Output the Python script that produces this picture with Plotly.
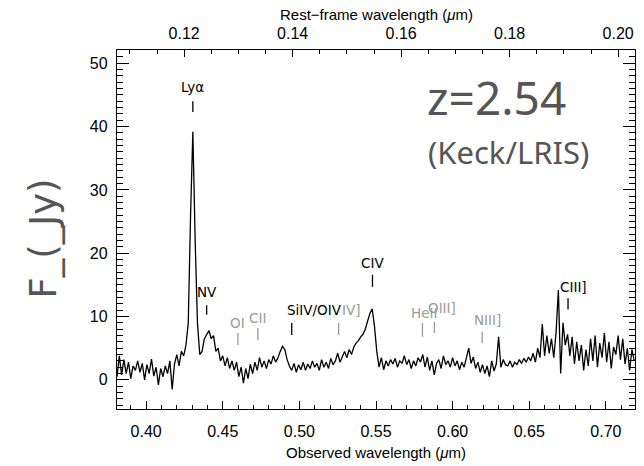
import plotly.graph_objects as go

# ---------------- data ----------------
z_redshift = 2.54
lam_start = 0.381          # observed wavelength of first pixel (micron)
lam_step = 0.0015          # pixel step (micron)
flux = [
    0.5, 3.8, 0.8, 3.2, 1.0, 2.8, 0.2, 2.2, 1.5, 3.0,
    1.2, 2.6, 0.0, 2.4, 1.0, 3.3, 0.6, 2.0, -0.8, 1.8,
    0.5, 2.2, 1.0, 3.0, -1.5, 2.5, 4.0, 2.2, 4.5, 3.8,
    5.5, 9.0, 26.0, 39.2, 22.0, 9.0, 4.0, 4.5, 6.5, 7.2,
    7.8, 6.5, 7.0, 4.5, 5.0, 3.0, 3.8, 2.2, 3.5, 1.8,
    3.0, 1.5, 2.8, 0.5, 2.0, -0.5, 1.8, 0.2, 2.5, 1.0,
    2.8, 1.5, 3.5, 2.0, 3.0, 1.8, 3.2, 2.5, 3.8, 2.8,
    3.5, 4.5, 5.3, 4.8, 3.2, 2.2, 1.5, 2.6, 1.2, 2.4,
    1.6, 2.8, 1.5, 2.5, 1.8, 3.0, 2.0, 2.6, 1.5, 3.2,
    2.0, 2.8, 1.8, 3.4, 2.4, 3.0, 4.2, 2.8, 3.6, 4.5,
    3.5, 4.8, 4.0, 5.2, 5.8, 6.2, 6.8, 7.2, 8.0, 9.5,
    10.5, 11.2, 8.5, 4.5, 2.0, 3.5, 1.6, 3.0, 2.2, 3.2,
    2.5, 3.4, 2.0, 3.0, 2.6, 3.8, 2.4, 3.2, 1.8, 3.0,
    2.2, 3.5, 2.8, 4.0, 2.0, 3.6, 1.5, 3.0, 0.8, 2.6,
    3.2, 1.8, 3.8, 2.4, 3.0, 2.0, 3.5, 2.2, 3.0, 1.6,
    2.8, 2.0, 3.4, 5.0, 2.6, 3.6, 1.8, 2.8, 1.2, 2.4,
    1.0, 2.2, 0.5, 3.0, 1.4, 2.5, 6.8, 2.0, 3.2, 2.4,
    2.2, 3.0, 2.0, 2.8, 2.4, 3.2, 2.6, 3.4, 2.8, 3.6,
    3.0, 4.2, 2.8, 5.0, 3.5, 8.8, 3.8, 7.0, 4.2, 6.5,
    3.5, 7.5, 14.2, 1.0, 9.0, 5.5, 7.2, 3.8, 6.8, 2.5,
    6.0, 3.0, 5.5, 1.5, 4.8, 2.2, 6.5, 3.0, 7.0, 2.0,
    5.8, 3.5, 7.4, 2.8, 6.0, 1.8, 5.2, 4.0, 7.0, 3.2,
    6.5, 2.5, 5.0, 1.5, 4.8, 3.0,
]
wavelength = [round(lam_start + lam_step * i, 5) for i in range(len(flux))]

# spectral line identifications (observed wavelength, micron)
line_names = ["Lyα", "NV", "OI", "CII", "SiIV/OIV", "IV]", "CIV",
              "HeII", "OIII]", "NIII]", "CIII]"]
line_tick_x = [0.4305, 0.4395, 0.4599, 0.4729, 0.4950, 0.5256, 0.5477,
               0.5803, 0.5881, 0.6193, 0.6753]
line_tick_lo = [42.3, 10.3, 5.5, 6.3, 7.1, 7.1, 14.7, 6.8, 7.4, 5.8, 11.1]
line_tick_hi = [44.0, 11.8, 7.4, 8.2, 9.0, 9.0, 16.6, 9.0, 9.2, 7.6, 12.9]
line_label_x = [0.4305, 0.4395, 0.4599, 0.4729, 0.4905, 0.5406, 0.5477,
                0.5816, 0.5933, 0.6226, 0.6790]
line_label_y = [46.3, 13.9, 9.0, 9.8, 11.0, 11.0, 18.4, 10.6, 11.3, 9.4, 14.6]
line_strong = [True, True, False, False, True, False, True,
               False, False, False, True]
line_anchor = ["center", "center", "center", "center", "left", "right",
               "center", "center", "center", "center", "center"]

x_range = [0.381, 0.719]
y_range = [-4.6, 52.1]

# ---------------- figure ----------------
BLACK = "#000000"
GREY = "#9a9a9a"
TXT = "#555555"
AXFONT = "Liberation Sans"
LBLFONT = "DejaVu Sans"

fig = go.Figure()
fig.add_trace(go.Scatter(x=wavelength, y=flux, mode="lines",
                         line=dict(color=BLACK, width=1.3),
                         showlegend=False, hoverinfo="skip"))
# dummy trace so the rest-frame axis is drawn
fig.add_trace(go.Scatter(x=[v / (1 + z_redshift) for v in x_range], y=[None, None],
                         xaxis="x2", mode="lines", showlegend=False,
                         hoverinfo="skip"))

shapes = []
annotations = []
# grey labels first, black ones on top
order = [i for i in range(len(line_names)) if not line_strong[i]] + \
        [i for i in range(len(line_names)) if line_strong[i]]
for i in order:
    col = BLACK if line_strong[i] else GREY
    shapes.append(dict(type="line", xref="x", yref="y",
                       x0=line_tick_x[i], x1=line_tick_x[i],
                       y0=line_tick_lo[i], y1=line_tick_hi[i],
                       line=dict(color=col, width=1.3)))
    annotations.append(dict(x=line_label_x[i], y=line_label_y[i], xref="x", yref="y",
                            text=line_names[i], showarrow=False,
                            xanchor=line_anchor[i], yanchor="middle",
                            font=dict(family=LBLFONT, size=13.5, color=col)))

annotations.append(dict(x=0.6284, y=44.7, xref="x", yref="y", text="z=2.54",
                        showarrow=False, xanchor="center", yanchor="middle",
                        font=dict(family="Noto Sans", size=46, color=TXT)))
annotations.append(dict(x=0.6362, y=36.0, xref="x", yref="y", text="(Keck/LRIS)",
                        showarrow=False, xanchor="center", yanchor="middle",
                        font=dict(family="Noto Sans", size=31, color=TXT)))
annotations.append(dict(x=-0.141, y=0.475, xref="paper", yref="paper", text="F_(_Jy)",
                        showarrow=False, xanchor="center", yanchor="middle",
                        textangle=-90,
                        font=dict(family="DejaVu Sans", size=37, color=TXT)))
annotations.append(dict(x=0.5, y=1, xref="paper", yref="paper",
                        text="Rest−frame wavelength (<i>μ</i>m)", showarrow=False,
                        xanchor="center", yanchor="bottom", yshift=25,
                        font=dict(family=AXFONT, size=15, color=BLACK)))
annotations.append(dict(x=0.5, y=0, xref="paper", yref="paper",
                        text="Observed wavelength (<i>μ</i>m)", showarrow=False,
                        xanchor="center", yanchor="top", yshift=-33,
                        font=dict(family=AXFONT, size=15, color=BLACK)))

fig.update_layout(
    width=644, height=466,
    margin=dict(l=117, r=9, t=50, b=57),
    paper_bgcolor="white", plot_bgcolor="white",
    shapes=shapes, annotations=annotations,
    xaxis=dict(range=x_range, showgrid=False, zeroline=False,
               showline=True, linecolor=BLACK, linewidth=1.3, mirror=False,
               ticks="inside", ticklen=8, tickwidth=1.2, tickcolor=BLACK,
               tick0=0.4, dtick=0.05, tickformat=".2f",
               minor=dict(ticks="inside", ticklen=4, dtick=0.01, tick0=0.4,
                          tickcolor=BLACK, tickwidth=1.1),
               tickfont=dict(family=AXFONT, size=16, color=BLACK),
               ticklabelstandoff=8),
    xaxis2=dict(range=[v / (1 + z_redshift) for v in x_range], overlaying="x",
                side="top", anchor="y", showgrid=False, zeroline=False,
                showline=True, linecolor=BLACK, linewidth=1.3,
                ticks="inside", ticklen=7, tickwidth=1.2, tickcolor=BLACK,
                tick0=0, dtick=0.02, tickformat=".2f",
                minor=dict(ticks="inside", ticklen=4, dtick=0.005, tick0=0,
                           tickcolor=BLACK, tickwidth=1.1),
                tickfont=dict(family=AXFONT, size=16, color=BLACK),
                ticklabelstandoff=3),
    yaxis=dict(range=y_range, showgrid=False, zeroline=False,
               showline=True, linecolor=BLACK, linewidth=1.3, mirror="ticks",
               ticks="inside", ticklen=12, tickwidth=1.2, tickcolor=BLACK,
               tick0=0, dtick=10,
               minor=dict(ticks="inside", ticklen=6, dtick=1, tick0=0,
                          tickcolor=BLACK, tickwidth=1.1),
               tickfont=dict(family=AXFONT, size=16, color=BLACK),
               ticklabelstandoff=5),
)

fig.write_html("out.html")
